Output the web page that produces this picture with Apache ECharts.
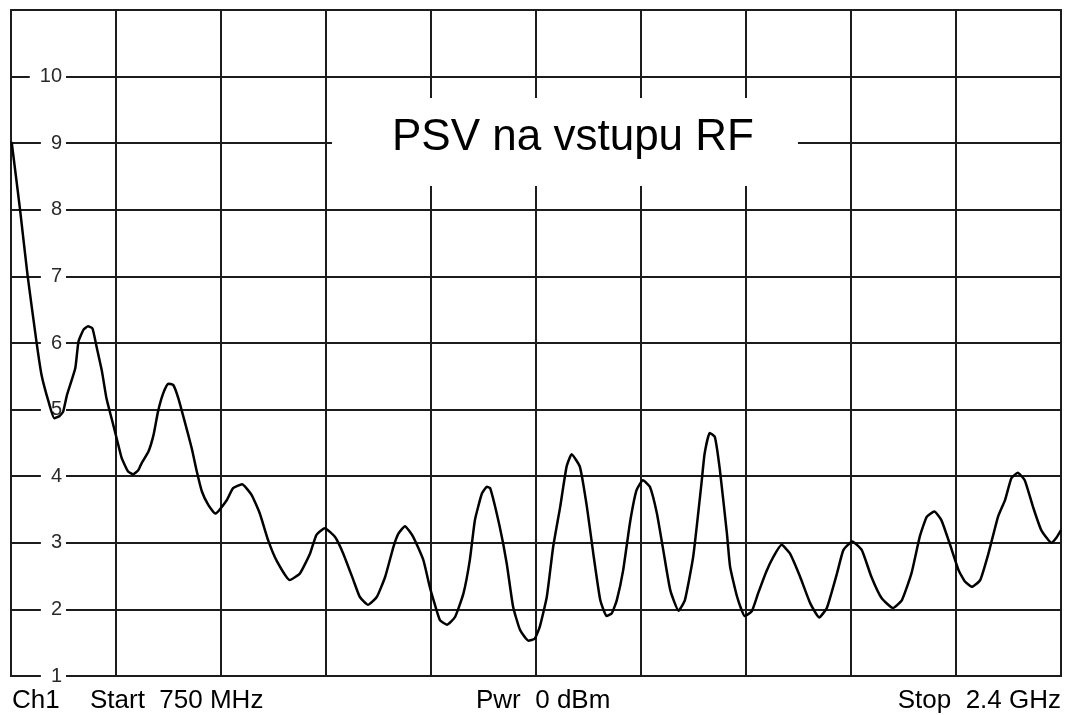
<!DOCTYPE html>
<html>
<head>
<meta charset="utf-8">
<script src="https://cdn.jsdelivr.net/npm/echarts@6/dist/echarts.min.js"></script>
<style>
html,body{margin:0;padding:0;background:#fff;}
#chart{width:1068px;height:715px;}
</style>
</head>
<body>
<div id="chart"></div>
<script>
// ---- data ----
const startMHz = 750;
const stopMHz = 2400;
const divisionMHz = 165;
const freqMHz = [
  751, 764, 776, 790, 798, 809, 818, 826, 832, 838, 851, 856, 864, 871, 878, 885, 893, 900, 908, 916,
  924, 934, 942, 950, 955, 966, 974, 981, 989, 997, 1005, 1013, 1023, 1034, 1042, 1050, 1060, 1071, 1089, 1099,
  1113, 1128, 1141, 1154, 1168, 1188, 1204, 1220, 1230, 1243, 1259, 1272, 1288, 1298, 1311, 1325, 1338, 1351, 1359, 1369,
  1382, 1398, 1408, 1414, 1424, 1435, 1448, 1461, 1471, 1479, 1490, 1498, 1503, 1518, 1529, 1539, 1550, 1563, 1573, 1581,
  1592, 1602, 1613, 1623, 1631, 1644, 1655, 1665, 1676, 1686, 1694, 1702, 1712, 1723, 1733, 1743, 1754, 1765, 1775, 1786,
  1799, 1809, 1822, 1835, 1840, 1848, 1856, 1864, 1875, 1880, 1891, 1903, 1914, 1924, 1937, 1948, 1961, 1974, 1990, 2006,
  2020, 2032, 2048, 2058, 2072, 2087, 2102, 2118, 2136, 2150, 2165, 2178, 2189, 2201, 2212, 2225, 2239, 2249, 2260, 2273,
  2286, 2301, 2312, 2322, 2332, 2343, 2356, 2369, 2385, 2393, 2400
];
const vswr = [
  9.02, 8.02, 7.02, 6.02, 5.52, 5.12, 4.87, 4.90, 4.97, 5.22, 5.62, 6.02, 6.20, 6.25, 6.22, 5.92, 5.57, 5.17, 4.87, 4.57,
  4.27, 4.07, 4.03, 4.09, 4.19, 4.37, 4.62, 4.97, 5.24, 5.39, 5.37, 5.17, 4.82, 4.42, 4.07, 3.77, 3.57, 3.44, 3.64, 3.82,
  3.88, 3.72, 3.44, 3.04, 2.72, 2.44, 2.54, 2.84, 3.12, 3.22, 3.09, 2.84, 2.44, 2.19, 2.07, 2.19, 2.49, 2.94, 3.14, 3.25,
  3.09, 2.74, 2.34, 2.14, 1.84, 1.77, 1.89, 2.24, 2.74, 3.34, 3.74, 3.84, 3.82, 3.24, 2.69, 2.04, 1.69, 1.53, 1.56, 1.74,
  2.19, 2.94, 3.54, 4.14, 4.33, 4.14, 3.54, 2.84, 2.14, 1.90, 1.94, 2.14, 2.59, 3.32, 3.79, 3.94, 3.84, 3.44, 2.89, 2.29,
  1.98, 2.14, 2.79, 3.89, 4.34, 4.65, 4.59, 4.09, 3.14, 2.64, 2.19, 1.90, 1.97, 2.24, 2.57, 2.79, 2.97, 2.84, 2.49, 2.09,
  1.88, 2.02, 2.54, 2.89, 3.02, 2.89, 2.49, 2.17, 2.02, 2.14, 2.54, 3.09, 3.39, 3.47, 3.34, 2.99, 2.59, 2.42, 2.34, 2.44,
  2.84, 3.39, 3.64, 3.97, 4.05, 3.94, 3.54, 3.19, 3.00, 3.08, 3.19
];
const yMin = 1;
const yMax = 11;
const yTickLabels = ['1', '2', '3', '4', '5', '6', '7', '8', '9', '10'];
const titleText = 'PSV na vstupu RF';
const footerTexts = ['Ch1', 'Start  750 MHz', 'Pwr  0 dBm', 'Stop  2.4 GHz'];

// ---- chart ----
const FONT = '"Liberation Sans", Arial, Helvetica, sans-serif';
const GRID_COLOR = '#1c1c1c';
const FOOT_FONT = '26px ' + FONT;
const seriesData = freqMHz.map((f, i) => [f - startMHz, vswr[i]]);

const chart = echarts.init(document.getElementById('chart'), null, { renderer: 'canvas' });
chart.setOption({
  animation: false,
  backgroundColor: '#ffffff',
  title: {
    text: titleText,
    left: 332,
    top: 98,
    padding: [18, 44, 26, 60],
    backgroundColor: '#ffffff',
    textStyle: { fontSize: 44, fontWeight: 'normal', color: '#000', fontFamily: FONT }
  },
  grid: {
    left: 11, right: 7, top: 10, bottom: 39,
    show: true,
    borderColor: GRID_COLOR,
    borderWidth: 2,
    backgroundColor: 'transparent'
  },
  xAxis: {
    type: 'value',
    min: 0,
    max: stopMHz - startMHz,
    interval: divisionMHz,
    axisLine: { show: false },
    axisTick: { show: false },
    axisLabel: { show: false },
    splitLine: { show: true, lineStyle: { color: GRID_COLOR, width: 2 } }
  },
  yAxis: [
    {
      type: 'value',
      min: yMin, max: yMax, interval: 1,
      axisLine: { show: false },
      axisTick: { show: false },
      axisLabel: { show: false },
      splitLine: { show: true, lineStyle: { color: GRID_COLOR, width: 2 } }
    },
    {
      type: 'value',
      position: 'left',
      offset: 0,
      z: 1,
      min: yMin, max: yMax, interval: 1,
      axisLine: { show: false },
      axisTick: { show: false },
      splitLine: { show: false },
      axisLabel: {
        show: true,
        inside: true,
        showMinLabel: true,
        showMaxLabel: false,
        align: 'right',
        margin: 55,
        fontSize: 20,
        fontFamily: FONT,
        color: '#2a2a2a',
        backgroundColor: '#ffffff',
        padding: [1, 4, 0, 10],
        formatter: function (v) {
          const idx = Math.round(v) - yMin;
          return yTickLabels[idx] !== undefined ? yTickLabels[idx] : '';
        }
      }
    }
  ],
  graphic: [
    { type: 'text', x: 12, y: 701, style: { text: footerTexts[0], font: FOOT_FONT, fill: '#000', textAlign: 'left', textVerticalAlign: 'middle' } },
    { type: 'text', x: 90, y: 701, style: { text: footerTexts[1], font: FOOT_FONT, fill: '#000', textAlign: 'left', textVerticalAlign: 'middle' } },
    { type: 'text', x: 476, y: 701, style: { text: footerTexts[2], font: FOOT_FONT, fill: '#000', textAlign: 'left', textVerticalAlign: 'middle' } },
    { type: 'text', x: 1061, y: 701, style: { text: footerTexts[3], font: FOOT_FONT, fill: '#000', textAlign: 'right', textVerticalAlign: 'middle' } }
  ],
  series: [
    {
      type: 'line',
      xAxisIndex: 0,
      yAxisIndex: 0,
      z: 3,
      data: seriesData,
      showSymbol: false,
      smooth: 0.15,
      lineStyle: { color: '#000000', width: 2.5 }
    }
  ]
});
</script>
</body>
</html>
